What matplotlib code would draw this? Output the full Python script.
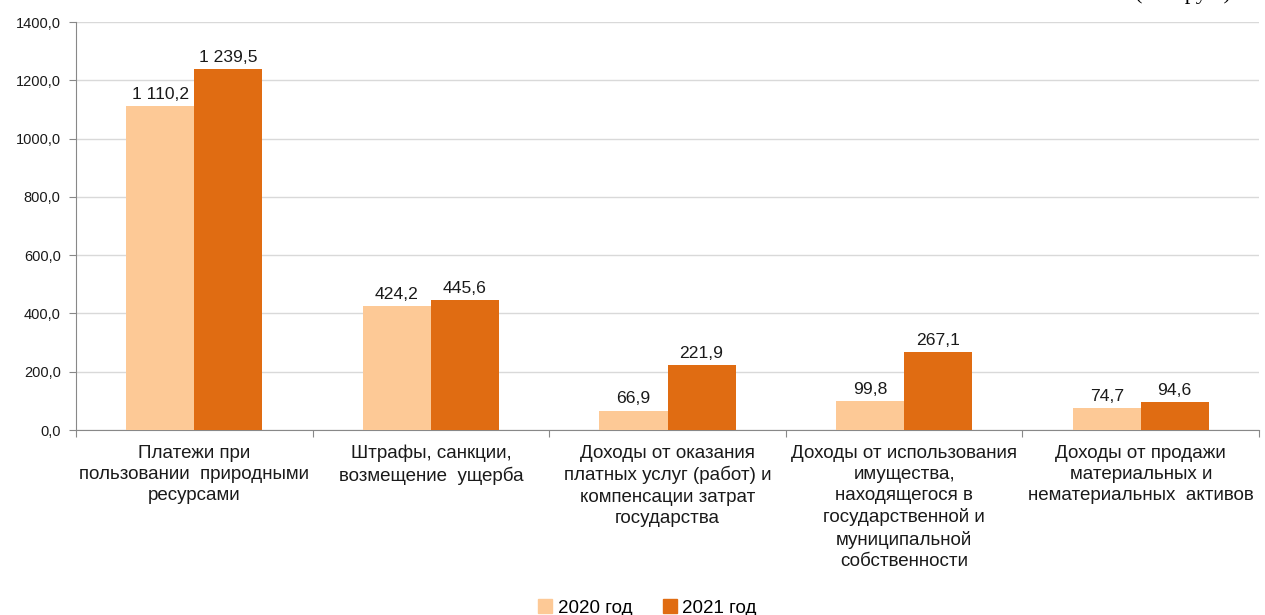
import numpy as np
import matplotlib.pyplot as plt
from matplotlib.patches import Patch

plt.rcParams['font.family'] = ['Liberation Sans', 'DejaVu Sans']

categories = [
    "Платежи при\nпользовании  природными\nресурсами",
    "Штрафы, санкции,\nвозмещение  ущерба",
    "Доходы от оказания\nплатных услуг (работ) и\nкомпенсации затрат\nгосударства",
    "Доходы от использования\nимущества,\nнаходящегося в\nгосударственной и\nмуниципальной\nсобственности",
    "Доходы от продажи\nматериальных и\nнематериальных  активов",
]
vals_2020 = [1110.2, 424.2, 66.9, 99.8, 74.7]
vals_2021 = [1239.5, 445.6, 221.9, 267.1, 94.6]
series_names = ["2020 год", "2021 год"]
colors = ["#FDC996", "#E06C12"]


def fmt(v):
    return f"{v:,.1f}".replace(",", " ").replace(".", ",")


fig = plt.figure(figsize=(12.65, 6.15), dpi=100)
ax = fig.add_axes([76 / 1265, 1 - 430 / 615, (1259 - 76) / 1265, (430 - 22) / 615])

x = np.arange(len(categories))
w = 0.2875
b1 = ax.bar(x - w / 2, vals_2020, w, color=colors[0], zorder=3)
b2 = ax.bar(x + w / 2, vals_2021, w, color=colors[1], zorder=3)

for bars, vals in ((b1, vals_2020), (b2, vals_2021)):
    for r, v in zip(bars, vals):
        ax.text(r.get_x() + r.get_width() / 2, v + 14, fmt(v),
                ha='center', va='bottom', fontsize=12.6, color='#1a1a1a')

ax.set_xlim(-0.5, len(categories) - 0.5)
ax.set_ylim(0, 1400)
ax.set_yticks(np.arange(0, 1401, 200))
ax.set_yticklabels([f"{int(t)},0" for t in np.arange(0, 1401, 200)], fontsize=10.5, color='#1a1a1a')
ax.yaxis.grid(True, color='#d9d9d9', linewidth=1, zorder=0)
ax.tick_params(axis='y', length=5, color='#888888', pad=6)

ax.set_xticks(np.arange(-0.5, len(categories), 1.0))
ax.set_xticklabels([])
ax.tick_params(axis='x', length=5, color='#888888')
for i, c in enumerate(categories):
    ax.text(i, -50, c, ha='center', va='top', fontsize=13.5, linespacing=1.32, color='#1a1a1a')

for s in ('top', 'right'):
    ax.spines[s].set_visible(False)
for s in ('left', 'bottom'):
    ax.spines[s].set_color('#888888')

handles = [Patch(color=c) for c in colors]
fig.legend(handles, series_names, loc='lower center', bbox_to_anchor=(0.512, -0.03), ncol=2,
           frameon=False, fontsize=13.5, handlelength=0.75, handleheight=0.75,
           handletextpad=0.3, columnspacing=1.6)

fig.text(1135 / 1265, 1 + 1 / 615, "(млн руб.)", fontsize=16, family=['Liberation Serif'],
         ha='left', va='baseline')

fig.savefig("out.png", dpi=100)
